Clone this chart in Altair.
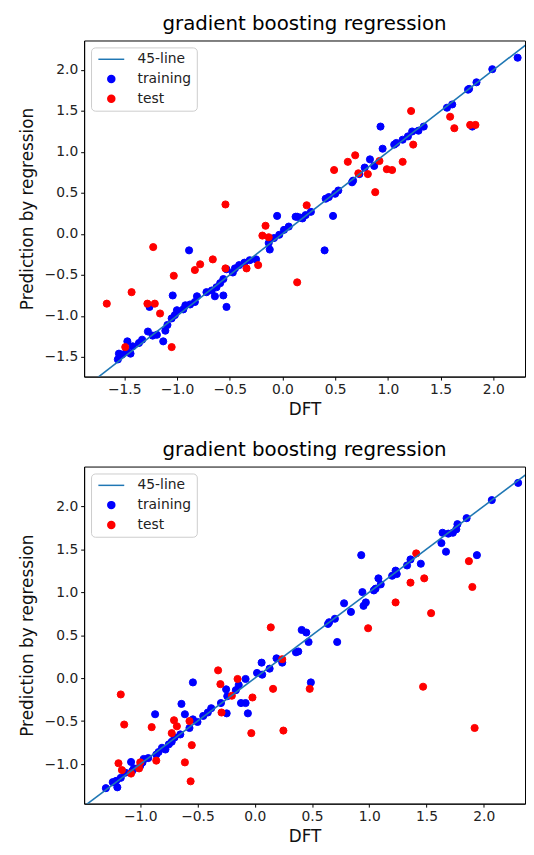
import altair as alt
import pandas as pd

# ---------------- data ----------------
top_train_x = [2.23, 1.99, 1.84, 1.76, 1.77, 1.56, 1.61, 1.80, 1.34, 1.29, 1.23, 1.19, 1.14, 1.08, 1.06,
               0.93, 0.95, 0.83, 0.78, 0.87, 0.73, 0.67, 0.66, 0.53, 0.50, 0.44, 0.41, 0.27, 0.19, 0.14,
               0.48, 0.40, -0.05, 0.125, 0.17, 0.22, 0.06, 0.015, -0.03, -0.08, -0.12, -0.13, -0.885,
               -0.25, -0.31, -0.36, -0.41, -0.45, -0.47, -0.53, -0.56, -0.59, -0.625, -0.67, -0.72, -0.64,
               -0.56, -0.53, -0.81, -0.83, -0.875, -0.92, -0.94, -1.0, -1.02, -1.05, -1.04, -1.09, -1.11,
               -1.13, -1.19, -1.23, -1.275, -1.33, -1.36, -1.42, -1.47, -1.475, -1.52, -1.55, -1.56, -1.44,
               -1.26]
top_train_y = [2.15, 2.01, 1.85, 1.76, 1.77, 1.54, 1.58, 1.31, 1.31, 1.26, 1.25, 1.19, 1.15, 1.11, 1.09,
               1.31, 1.04, 0.91, 0.81, 0.83, 0.73, 0.65, 0.63, 0.53, 0.49, 0.45, 0.43, 0.27, 0.19, 0.21,
               0.22, -0.20, 0.22, 0.21, 0.20, 0.23, 0.09, 0.05, -0.01, -0.05, -0.19, -0.11, -0.20,
               -0.31, -0.32, -0.35, -0.38, -0.42, -0.47, -0.43, -0.55, -0.60, -0.65, -0.69, -0.71, -0.76,
               -0.75, -0.89, -0.76, -0.83, -0.86, -0.87, -0.92, -0.93, -0.99, -1.03, -0.75, -1.11, -1.18,
               -1.31, -1.23, -1.24, -1.19, -1.29, -1.33, -1.37, -1.31, -1.43, -1.47, -1.46, -1.53, -1.46,
               -0.89]
top_test_x = [1.22, 1.59, 1.63, 1.78, 1.83, 1.24, 0.69, 0.62, 0.49, 0.72, 0.81, 0.92, 0.99, 1.04, 1.14,
              0.88, -0.54, 0.23, -1.225, -0.16, -0.19, -0.13, -0.66, -0.78, -0.83, -0.54, -0.34, -0.23,
              0.14, -1.03, -1.43, -1.665, -1.28, -1.21, -1.16, -1.05, -1.49]
top_test_y = [1.50, 1.43, 1.29, 1.33, 1.33, 1.09, 0.96, 0.88, 0.78, 0.74, 0.73, 0.89, 0.79, 0.78, 0.88,
              0.51, 0.36, 0.35, -0.16, 0.10, -0.02, -0.04, -0.31, -0.37, -0.44, -0.42, -0.42, -0.38,
              -0.59, -0.51, -0.71, -0.85, -0.85, -0.85, -0.97, -1.38, -1.38]

bot_train_x = [2.30, 2.07, 1.85, 1.77, 1.76, 1.73, 1.69, 1.64, 1.63, 1.67, 1.94, 0.93, 1.36, 1.33, 1.45,
               1.23, 1.20, 1.24, 1.08, 1.10, 1.055, 1.04, 0.94, 0.97, 0.95, 0.84, 0.78, 0.70, 0.65, 0.64,
               0.41, 0.45, 0.47, 0.72, 0.38, 0.49, -0.54, 0.06, 0.19, 0.24, 0.36, 0.02, 0.065, 0.13,
               -0.08, -0.14, -0.165, -0.25, -0.24, -0.12, -0.08, -0.06, -0.245, -0.295, -0.38, -0.41,
               -0.45, -0.50, -0.54, -0.57, -0.61, -0.64, -0.87, -0.65, -0.70, -0.725, -0.75, -0.78, -0.81,
               -0.84, -0.86, -0.93, -0.97, -0.98, -1.0, -1.055, -1.08, -1.07, -1.13, -1.17, -1.21, -1.24,
               -1.20, -1.30]
bot_train_y = [2.27, 2.07, 1.86, 1.79, 1.73, 1.69, 1.68, 1.69, 1.57, 1.47, 1.43, 1.43, 1.38, 1.31, 1.33,
               1.25, 1.19, 1.21, 1.16, 1.09, 1.04, 1.02, 1.00, 0.88, 0.84, 0.77, 0.87, 0.69, 0.65, 0.63,
               0.56, 0.53, 0.42, 0.42, 0.31, -0.05, -0.05, 0.18, 0.23, 0.18, 0.30, 0.06, 0.04, 0.11,
               -0.01, -0.08, -0.14, -0.13, -0.21, -0.29, -0.29, -0.41, -0.41, -0.29, -0.35, -0.40,
               -0.44, -0.51, -0.48, -0.58, -0.42, -0.30, -0.42, -0.655, -0.69, -0.74, -0.77, -0.83, -0.81,
               -0.86, -0.89, -0.93, -0.94, -0.98, -1.02, -1.05, -0.975, -1.08, -1.10, -1.16, -1.195, -1.21,
               -1.27, -1.28]
bot_test_x = [0.14, 1.41, 1.87, 1.90, 1.36, 1.48, 1.23, 1.54, 0.99, 0.48, 1.47, 1.92, -1.17, -1.14, -0.90,
              -1.19, -1.16, -1.08, -1.00, -1.01, -0.86, -0.705, -0.68, -0.725, -0.57, -0.55, -0.61, -0.56,
              -0.32, -0.30, -0.15, -0.20, -0.02, -0.29, -0.03, 0.16, 0.24, 0.25]
bot_test_y = [0.59, 1.45, 1.36, 1.06, 1.11, 1.16, 0.88, 0.755, 0.58, -0.125, -0.10, -0.58, -0.19, -0.54, -0.57,
              -0.99, -1.07, -1.11, -0.98, -1.05, -0.96, -0.49, -0.56, -0.64, -0.50, -0.78, -0.98, -1.20,
              0.09, -0.07, -0.01, -0.205, -0.225, -0.40, -0.64, -0.125, 0.22, -0.61]

top_xdomain = [-1.88, 2.30]
top_ydomain = [-1.74, 2.36]
bot_xdomain = [-1.49, 2.36]
bot_ydomain = [-1.46, 2.46]
top_ticks = [-1.5, -1.0, -0.5, 0.0, 0.5, 1.0, 1.5, 2.0]
bot_ticks = [-1.0, -0.5, 0.0, 0.5, 1.0, 1.5, 2.0]

series_names = ["45-line", "training", "test"]
series_colors = ["#1f77b4", "#0000ff", "#ff0000"]
series_shapes = ["M-3.7,0H3.7", "circle", "circle"]

TITLE = "gradient boosting regression"
FONT = "DejaVu Sans"


def panel(tx, ty, sx, sy, xdom, ydom, xticks, yticks, w, h):
    pts = pd.DataFrame({
        "DFT": tx + sx,
        "pred": ty + sy,
        "series": ["training"] * len(tx) + ["test"] * len(sx),
        "rank": list(range(len(tx) + len(sx))),
    })
    lo = min(xdom[0], ydom[0]) - 0.5
    hi = max(xdom[1], ydom[1]) + 0.5
    line = pd.DataFrame({"DFT": [lo, hi], "pred": [lo, hi]})

    xs = alt.Scale(domain=xdom, nice=False, zero=False)
    ys = alt.Scale(domain=ydom, nice=False, zero=False)
    xaxis = alt.Axis(values=xticks, format=".1f", grid=False, tickSize=3.5, labelPadding=3,
                     titlePadding=5, labelFontSize=14, titleFontSize=17, titleFontWeight="normal",
                     labelColor="#222222", titleColor="#111111", tickColor="black", domainColor="black")
    yaxis = alt.Axis(values=yticks, format=".1f", grid=False, tickSize=3.5, labelPadding=3,
                     titlePadding=8, labelFontSize=14, titleFontSize=17, titleFontWeight="normal",
                     labelColor="#222222", titleColor="#111111", tickColor="black", domainColor="black")
    leg = alt.Legend(title=None, orient="top-left", offset=7, fillColor="white", strokeColor="#cccccc",
                     cornerRadius=4, padding=5, symbolSize=50, symbolStrokeWidth=1.5, symbolOffset=8.5,
                     labelOffset=19.5, rowPadding=6, labelFontSize=14, labelColor="#222222",
                     symbolOpacity=1, labelFont=FONT)

    x_enc = alt.X("DFT:Q", scale=xs, axis=xaxis, title="DFT")
    y_enc = alt.Y("pred:Q", scale=ys, axis=yaxis, title="Prediction by regression")

    points = alt.Chart(pts).mark_point(filled=True, size=52, strokeWidth=1, opacity=1).encode(
        x=x_enc,
        y=y_enc,
        fill=alt.Fill("series:N", scale=alt.Scale(domain=series_names, range=series_colors), legend=leg),
        stroke=alt.Stroke("series:N", scale=alt.Scale(domain=series_names, range=series_colors), legend=leg),
        shape=alt.Shape("series:N", scale=alt.Scale(domain=series_names, range=series_shapes), legend=leg),
        order=alt.Order("rank:Q"),
    )
    diag = alt.Chart(line).mark_line(color="#1f77b4", strokeWidth=1.6, clip=True).encode(
        x=alt.X("DFT:Q", scale=xs),
        y=alt.Y("pred:Q", scale=ys),
    )
    return alt.layer(points, diag).properties(
        width=w, height=h,
        title=alt.TitleParams(TITLE, fontSize=20, fontWeight="normal", anchor="middle", offset=7,
                              color="black", font=FONT),
    )


top = panel(top_train_x, top_train_y, top_test_x, top_test_y, top_xdomain, top_ydomain,
            top_ticks, top_ticks, 446, 340)
bottom = panel(bot_train_x, bot_train_y, bot_test_x, bot_test_y, bot_xdomain, bot_ydomain,
               bot_ticks, bot_ticks, 446, 341)

chart = alt.vconcat(top, bottom, spacing=21).resolve_scale(
    x="independent", y="independent", fill="independent", stroke="independent", shape="independent"
).resolve_legend(
    fill="independent", stroke="independent", shape="independent"
).properties(
    padding={"left": 10, "top": 0, "right": 0, "bottom": 0}
).configure(font=FONT).configure_view(stroke="black", strokeWidth=1)

chart.save("out.html", embed_options={"renderer": "svg", "actions": False})
